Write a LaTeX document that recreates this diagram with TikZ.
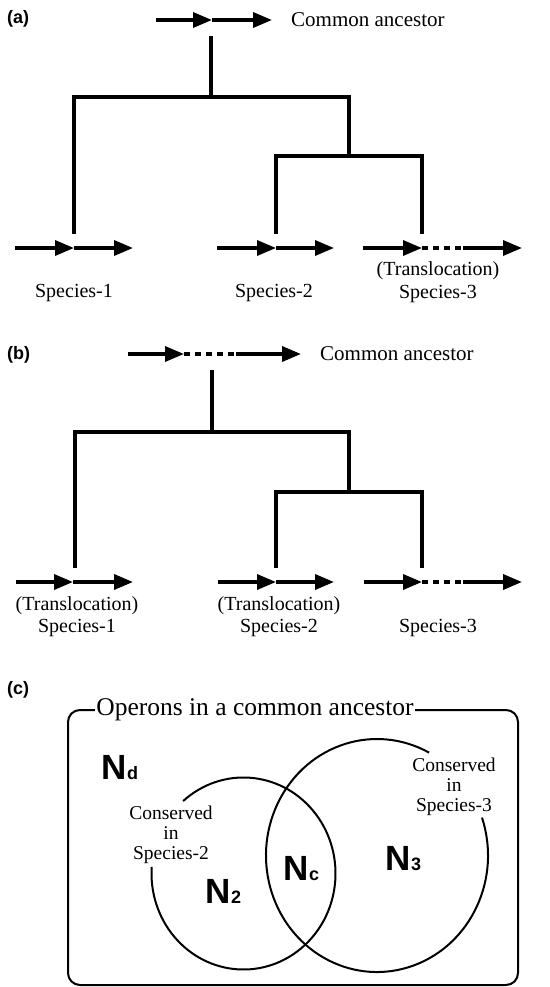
\documentclass[tikz,border=0pt]{standalone}
\usepackage{fontspec}
\setmainfont{Liberation Serif}
\setsansfont{Liberation Sans}
\usetikzlibrary{arrows.meta}
\begin{document}
\begin{tikzpicture}[x=1pt,y=-1pt,
  tree/.style={line width=4pt},
  gene/.style={line width=3.5pt,-{Triangle[length=19pt,width=15pt]}},
  dotseg/.style={line width=3.5pt,dash pattern=on 6pt off 5pt},
  lbl/.style={inner sep=0pt,align=center,font=\fontsize{20}{22.5}\selectfont},
  anc/.style={inner sep=0pt,anchor=west,font=\fontsize{21}{24}\selectfont},
  panel/.style={inner sep=0pt,anchor=west,font=\sffamily\bfseries\fontsize{18}{20}\selectfont},
  big/.style={inner sep=0pt,font=\sffamily\bfseries\fontsize{35}{36}\selectfont},
  cons/.style={inner sep=0pt,align=center,font=\fontsize{19.5}{20}\selectfont},
  venn/.style={line width=2pt}
]
\useasboundingbox (0,0) rectangle (549,987);

% ---------------- (a) ----------------
\node[panel] (pa) at (7,19) {(a)};
\coordinate (aAs) at (156,20); \coordinate (aAh) at (212,20); \coordinate (aAe) at (272,20);
\draw[gene] (aAs) -- (aAh); \draw[gene] (aAh) -- (aAe);
\node[anc] (aanc) at (291,20) {Common ancestor};

\coordinate (aTop) at (211,36); \coordinate (aRoot) at (211,97);
\coordinate (aJ) at (349,156);
\coordinate (a1) at (74,234); \coordinate (a2) at (276,234); \coordinate (a3) at (422,234);
\draw[tree] (aTop) -- (aRoot);
\draw[tree] (a1) |- (aRoot) -| (aJ);
\draw[tree] (a2) |- (aJ) -| (a3);

\coordinate (a1s) at (15,248); \coordinate (a1h) at (74,248); \coordinate (a1e) at (133,248);
\draw[gene] (a1s) -- (a1h); \draw[gene] (a1h) -- (a1e);
\coordinate (a2s) at (217,248); \coordinate (a2h) at (276,248); \coordinate (a2e) at (334,248);
\draw[gene] (a2s) -- (a2h); \draw[gene] (a2h) -- (a2e);
\coordinate (a3s) at (363,248); \coordinate (a3h) at (422,248); \coordinate (a3m) at (463,248); \coordinate (a3e) at (522,248);
\draw[gene] (a3s) -- (a3h); \draw[dotseg] (a3h) -- (a3m); \draw[gene] (a3m) -- (a3e);

\node[lbl] (as1) at (74,293) {Species-1};
\node[lbl] (as2) at (274,293) {Species-2};
\node[lbl] (as3) at (438,282) {(Translocation)\\Species-3};

% ---------------- (b) ----------------
\node[panel] (pb) at (7,355) {(b)};
\coordinate (bAs) at (128,354); \coordinate (bAh) at (184,354); \coordinate (bAm) at (236,354); \coordinate (bAe) at (301,354);
\draw[gene] (bAs) -- (bAh); \draw[dotseg] (bAh) -- (bAm); \draw[gene] (bAm) -- (bAe);
\node[anc] (banc) at (320,354) {Common ancestor};

\coordinate (bTop) at (212,370); \coordinate (bRoot) at (212,432);
\coordinate (bJ) at (349,492);
\coordinate (b1) at (75,568); \coordinate (b2) at (276,568); \coordinate (b3) at (422,568);
\draw[tree] (bTop) -- (bRoot);
\draw[tree] (b1) |- (bRoot) -| (bJ);
\draw[tree] (b2) |- (bJ) -| (b3);

\coordinate (b1s) at (16,582); \coordinate (b1h) at (73,582); \coordinate (b1e) at (133,582);
\draw[gene] (b1s) -- (b1h); \draw[gene] (b1h) -- (b1e);
\coordinate (b2s) at (218,582); \coordinate (b2h) at (276,582); \coordinate (b2e) at (334,582);
\draw[gene] (b2s) -- (b2h); \draw[gene] (b2h) -- (b2e);
\coordinate (b3s) at (364,582); \coordinate (b3h) at (422,582); \coordinate (b3m) at (463,582); \coordinate (b3e) at (522,582);
\draw[gene] (b3s) -- (b3h); \draw[dotseg] (b3h) -- (b3m); \draw[gene] (b3m) -- (b3e);

\node[lbl] (bs1) at (77,616.5) {(Translocation)\\Species-1};
\node[lbl] (bs2) at (279,616.5) {(Translocation)\\Species-2};
\node[lbl] (bs3) at (438,628) {Species-3};

% ---------------- (c) ----------------
\node[panel] (pc) at (7,690) {(c)};
\draw[venn,rounded corners=12pt] (68,710) rectangle (518,985);
\node[fill=white,inner xsep=1.5pt,inner ysep=0pt,font=\fontsize{25.5}{28}\selectfont] (title) at (255,710) {Operons in a common ancestor};

\coordinate (c2) at (243.5,873.5);
\coordinate (c3) at (377,855.5);
\draw[venn] (c2) ++(229:92 and 96) arc[start angle=229,end angle=544,x radius=92,y radius=96];
\draw[venn] (c3) ++(341:111 and 116.5) arc[start angle=341,end angle=658,x radius=111,y radius=116.5];

\node[cons] (cons2) at (171,835) {Conserved\\in\\Species-2};
\node[cons] (cons3) at (454,787) {Conserved\\in\\Species-3};

\node[big] (nd) at (120,768) {N{\fontsize{18}{18}\selectfont d}};
\node[big] (n2) at (223.5,891) {N{\fontsize{18}{18}\selectfont 2}};
\node[big] (nc) at (301.5,869) {N{\fontsize{18}{18}\selectfont c}};
\node[big] (n3) at (403.5,859) {N{\fontsize{18}{18}\selectfont 3}};
\end{tikzpicture}
\end{document}
